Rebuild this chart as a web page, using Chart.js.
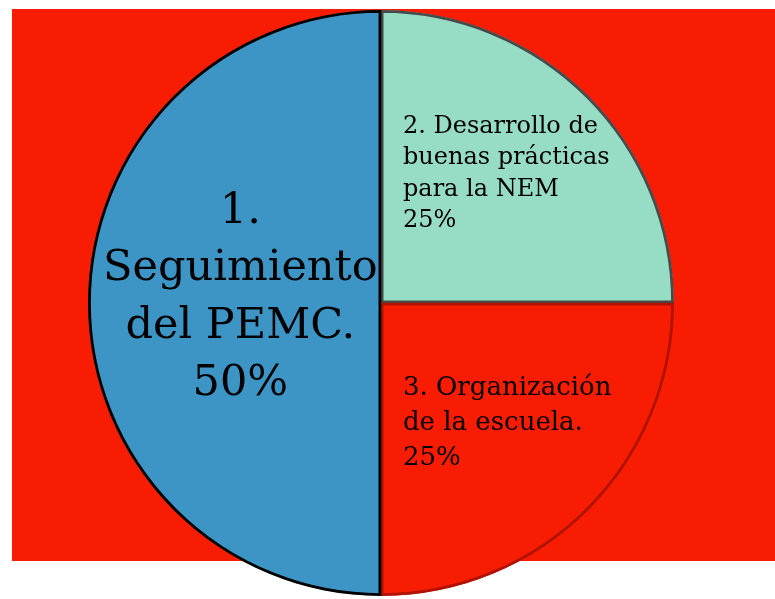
<!DOCTYPE html>
<html>
<head>
<meta charset="utf-8">
<script src="https://cdn.jsdelivr.net/npm/chart.js@4.4.1/dist/chart.umd.min.js"></script>
<style>
  html, body { margin: 0; padding: 0; background: #ffffff; }
  #wrap { position: relative; width: 775px; height: 599px; }
</style>
</head>
<body>
<div id="wrap"><canvas id="pemcPie" width="775" height="599"></canvas></div>
<script>
// data
var labels = ['2. Desarrollo de buenas prácticas para la NEM', '3. Organización de la escuela.', '1. Seguimiento del PEMC.'];
var values = [25, 25, 50];
var sliceColors = ['#97dcc5', '#f81c02', '#3c95c5'];
var sliceBorders = ['#454b4b', '#b01204', '#000000'];
// label text as drawn in each slice
var labelLines = [
    ['2. Desarrollo de', 'buenas prácticas', 'para la NEM', '25%'],
    ['3. Organización', 'de la escuela.', '25%'],
    ['1.', 'Seguimiento', 'del PEMC.', '50%']
];

var FONT = '"DejaVu Serif", serif';

// red panel behind the pie
var panelBg = {
    id: 'panelBg',
    beforeDraw: function(chart) {
        var ctx = chart.ctx;
        ctx.save();
        ctx.fillStyle = '#f81c02';
        ctx.fillRect(12, 9, 763, 552);
        ctx.restore();
    }
};

// text inside slices
var sliceText = {
    id: 'sliceText',
    afterDraw: function(chart) {
        var ctx = chart.ctx;
        var arcs = chart.getDatasetMeta(0).data;
        ctx.save();
        ctx.fillStyle = '#000000';
        ctx.textBaseline = 'middle';
        arcs.forEach(function(arc, i) {
            var r = arc.outerRadius;
            var lines = labelLines[i];
            var x, y0, step, size, align;
            if (i === 0) {
                x = arc.x + 0.075 * r; y0 = arc.y - 0.60 * r; step = 0.106 * r; size = 24; align = 'left';
            } else if (i === 1) {
                x = arc.x + 0.075 * r; y0 = arc.y + 0.29 * r; step = 0.12 * r; size = 26; align = 'left';
            } else {
                x = arc.x - 0.48 * r; y0 = arc.y - 0.31 * r; step = 0.195 * r; size = 43; align = 'center';
            }
            ctx.font = size + 'px ' + FONT;
            ctx.textAlign = align;
            lines.forEach(function(t, k) {
                ctx.fillText(t, x, y0 + k * step);
            });
        });
        ctx.restore();
    }
};

var ctx = document.getElementById('pemcPie').getContext('2d');
var chart = new Chart(ctx, {
    type: 'pie',
    data: {
        labels: labels,
        datasets: [{
            data: values,
            backgroundColor: sliceColors,
            borderColor: sliceBorders,
            borderWidth: 2.5,
            borderAlign: 'inner'
        }]
    },
    options: {
        responsive: false,
        animation: false,
        rotation: 0,
        layout: { padding: { top: 10, bottom: 3, left: 0, right: 13 } },
        plugins: {
            legend: { display: false },
            tooltip: { enabled: false }
        }
    },
    plugins: [panelBg, sliceText]
});
</script>
</body>
</html>
